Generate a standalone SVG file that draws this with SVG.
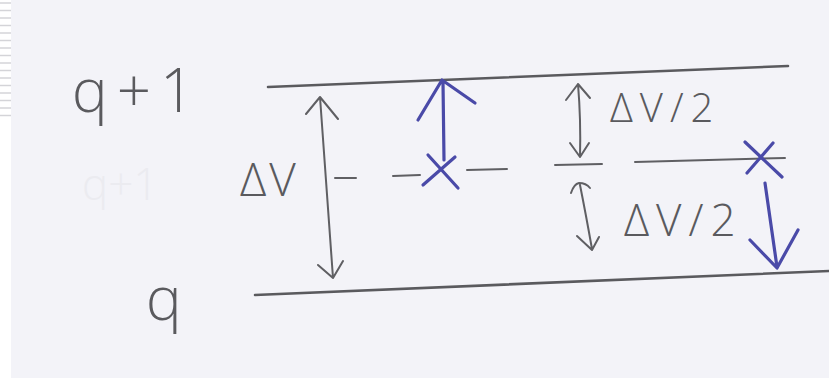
<svg xmlns="http://www.w3.org/2000/svg" width="829" height="382" viewBox="0 0 829 382">
<style>
.pen{fill:none;stroke:#5a5a5e;stroke-width:2.6;stroke-linecap:round;stroke-linejoin:round}
.thin{fill:none;stroke:#5f5f63;stroke-width:2;stroke-linecap:round;stroke-linejoin:round}
.blue{fill:none;stroke:#4a4aa8;stroke-width:3.2;stroke-linecap:round;stroke-linejoin:round}
.lbl{font-family:"Open Sans","Liberation Sans",Arial,sans-serif;font-weight:300;fill:#5a5a5e}
</style>
<rect width="829" height="382" fill="#ffffff"/>
<rect x="11" y="0" width="818" height="378" fill="#f3f3f8"/>
<g id="stripes" stroke="#d4d4d8" stroke-width="1.5">
<line x1="0" y1="3" x2="11" y2="3"/><line x1="0" y1="10.5" x2="11" y2="10.5"/><line x1="0" y1="18" x2="11" y2="18"/><line x1="0" y1="25.5" x2="11" y2="25.5"/><line x1="0" y1="33" x2="11" y2="33"/><line x1="0" y1="40.5" x2="11" y2="40.5"/><line x1="0" y1="48" x2="11" y2="48"/><line x1="0" y1="55.5" x2="11" y2="55.5"/><line x1="0" y1="63" x2="11" y2="63"/><line x1="0" y1="70.5" x2="11" y2="70.5"/><line x1="0" y1="78" x2="11" y2="78"/><line x1="0" y1="85.5" x2="11" y2="85.5"/><line x1="0" y1="93" x2="11" y2="93"/><line x1="0" y1="100.5" x2="11" y2="100.5"/><line x1="0" y1="108" x2="11" y2="108"/><line x1="0" y1="115.5" x2="11" y2="115.5"/>
</g>
<g id="ghost">
<text x="82" y="200" class="lbl" font-size="44" style="fill:#ebebf0">q+1</text>
</g>
<g id="connectors">
<path id="level-top" class="pen" d="M268 87 Q520 76 788 66"/>
<path id="level-bottom" class="pen" d="M255 295 Q540 284 829 271"/>
<path id="level-mid" class="thin" d="M335 178 L356 178 M393 176 L420 175 M467 170 L507 169 M555 165 L602 164 M635 162 L785 158"/>
<path id="dv-arrow" class="thin" d="M320 97 L333 278 M306 114 L320 97 L338 119 M318 265 L333 278 L343 261"/>
<path id="half-upper" class="thin" d="M578 84 Q581 120 580 157 M566 100 L578 84 L590 98 M570 143 L580 157 L589 143"/>
<path id="half-lower" class="thin" d="M580 185 Q586 215 592 249 M571 193 Q574 184 579 183 Q586 183 590 188 M577 236 L592 250 L599 237"/>
<path id="up-arrow" class="blue" d="M444 160 L443 82 M418 120 L442 80 L475 103"/>
<path id="down-arrow" class="blue" d="M765 183 L777 267 M750 240 L777 268 L798 230"/>
</g>
<g id="marker-left">
<path class="blue" d="M428 155 L458 188 M423 185 L455 157"/>
</g>
<g id="marker-right">
<path class="blue" d="M745 142 L782 177 M747 173 L773 143"/>
</g>
<g id="label-q1"><text x="72" y="112" class="lbl" font-size="60" letter-spacing="9">q+1</text></g>
<g id="label-q"><text x="146" y="320" class="lbl" font-size="60">q</text></g>
<g id="label-dv"><text x="240" y="196" class="lbl" font-size="46" letter-spacing="3">ΔV</text></g>
<g id="label-half1"><text x="610" y="122" class="lbl" font-size="40" letter-spacing="7">ΔV/2</text></g>
<g id="label-half2"><text x="624" y="236" class="lbl" font-size="44" letter-spacing="7">ΔV/2</text></g>
</svg>
